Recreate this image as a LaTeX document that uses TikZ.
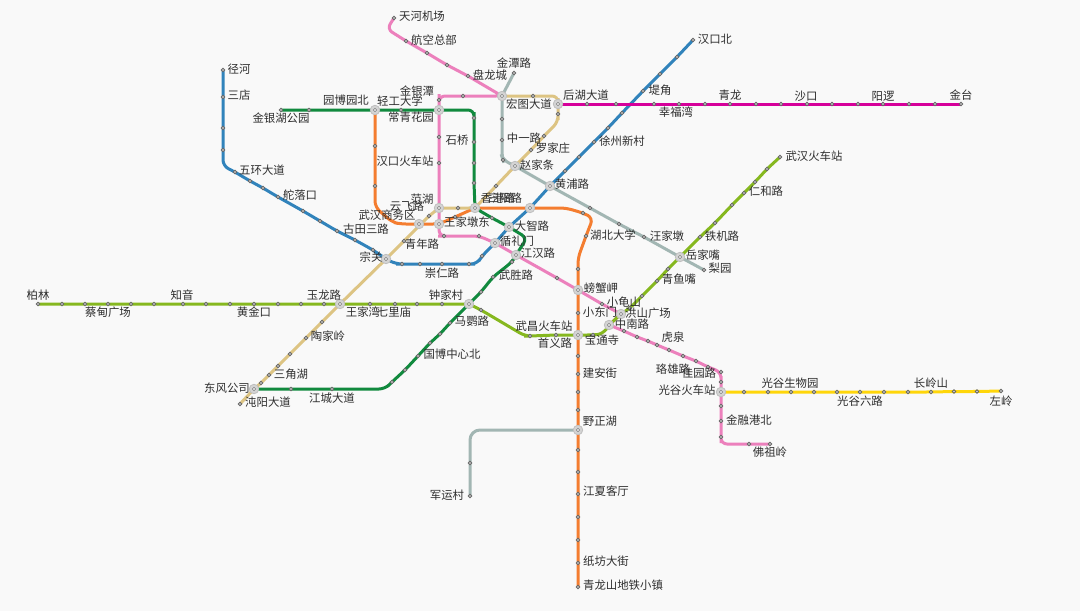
\documentclass[tikz,border=0pt]{standalone}
\usepackage{fontspec}
\setmainfont{Noto Sans CJK SC}
\usepackage{xcolor}
\usepackage{tikz}
\usetikzlibrary{backgrounds}
\definecolor{pagebg}{HTML}{F9F9F9}
\definecolor{textgrey}{HTML}{2E2E2E}
\definecolor{lineblue}{HTML}{3183BB}
\definecolor{linegreen}{HTML}{118A3E}
\definecolor{lineorange}{HTML}{F47D30}
\definecolor{linepink}{HTML}{EC80BC}
\definecolor{linetan}{HTML}{DDC483}
\definecolor{linelime}{HTML}{86B81F}
\definecolor{linegrey}{HTML}{A2B6B3}
\definecolor{linemagenta}{HTML}{D6009A}
\definecolor{lineyellow}{HTML}{FFD60A}

\begin{document}
\begin{tikzpicture}[
        x=1pt, y=-1pt,
        font=\fontsize{11.4pt}{12pt}\selectfont,
        % Styles for the stations
        stop/.style={
            circle, draw=black!60, fill=black!10, line width=0.8pt,
            inner sep=0pt, minimum size=3.4pt
        },
        hub/.style={
            circle, draw=black!25, fill=black!17, line width=0.8pt,
            inner sep=0pt, minimum size=9.5pt,
            path picture={\draw[black!50, line width=0.5pt, fill=black!8] (path picture bounding box.center) circle (1.8pt);}
        },
        stationname/.style={text=textgrey, inner sep=0pt},
        % Styles for the metro lines
        metro/.style={line width=3pt, rounded corners=6pt},
        lineone/.style={metro, draw=lineblue},
        linesix/.style={metro, draw=linegreen},
        lineseven/.style={metro, draw=lineorange},
        linetwo/.style={metro, draw=linepink},
        linethree/.style={metro, draw=linetan},
        linefour/.style={metro, draw=linelime},
        lineeight/.style={metro, draw=linegrey},
        linetwentyone/.style={metro, draw=linemagenta},
        lineeleven/.style={metro, draw=lineyellow}
    ]

    % 1. INTERCHANGE STATIONS
    \node[hub] (yuanbo)    at (375,110) {};
    \node[hub] (changqing) at (439,110) {};
    \node[hub] (hongtu)    at (502,96) {};
    \node[hub] (houhu)     at (558,104) {};
    \node[hub] (zhaojia)   at (515,166) {};
    \node[hub] (huangpu)   at (550,186) {};
    \node[hub] (fanhu)     at (439,208) {};
    \node[hub] (xianggang) at (475,208) {};
    \node[hub] (sanyang)   at (530,208) {};
    \node[hub] (shangwu)   at (419,224) {};
    \node[hub] (wangjia)   at (439,224) {};
    \node[hub] (dazhi)     at (509,227) {};
    \node[hub] (xunli)     at (495,243) {};
    \node[hub] (jianghan)  at (516,255) {};
    \node[hub] (zongguan)  at (386,259) {};
    \node[hub] (yuejia)    at (680,257) {};
    \node[hub] (pangxie)   at (578,290) {};
    \node[hub] (yulong)    at (340,304) {};
    \node[hub] (zhongjia)  at (469,304) {};
    \node[hub] (hongshan)  at (621,314) {};
    \node[hub] (zhongnan)  at (609,325) {};
    \node[hub] (wuchang)   at (578,335) {};
    \node[hub] (dongfeng)  at (254,389) {};
    \node[hub] (guanggu)   at (721,392) {};
    \node[hub] (yezheng)   at (578,430) {};

    % 2. STOPS OF THE BLUE LINE
    \node[stop] (jinghe)    at (223,70) {};
    \node[stop] (sandian)   at (223,97) {};
    \node[stop] (blue3)     at (223,128) {};
    \node[stop] (blue4)     at (223,150) {};
    \node[stop] (wuhuan)    at (235,172) {};
    \node[stop] (blue6)     at (250,181) {};
    \node[stop] (blue7)     at (263,188) {};
    \node[stop] (duoluo)    at (278,197) {};
    \node[stop] (blue9)     at (303,211) {};
    \node[stop] (blue10)    at (320,221) {};
    \node[stop] (blue11)    at (337,231) {};
    \node[stop] (gutian)    at (355,240) {};
    \node[stop] (blue13)    at (373,250) {};
    \node[stop] (blue14)    at (402,264) {};
    \node[stop] (blue15)    at (420,264) {};
    \node[stop] (chongren)  at (442,264) {};
    \node[stop] (blue17)    at (469,264) {};
    \node[stop] (blue18)    at (482,256) {};
    \node[stop] (blue19)    at (565,171) {};
    \node[stop] (blue20)    at (579,157) {};
    \node[stop] (xuzhou)    at (594,142) {};
    \node[stop] (blue22)    at (608,128) {};
    \node[stop] (blue23)    at (622,113) {};
    \node[stop] (dijiao)    at (643,91) {};
    \node[stop] (blue25)    at (660,74) {};
    \node[stop] (blue26)    at (677,57) {};
    \node[stop] (hankoubei) at (693,40) {};
    \coordinate (bluebenda) at (223,166);
    \coordinate (bluebendb) at (396,264);
    \coordinate (bluebendc) at (477,264);

    % 3. STOPS OF THE GREEN LINE
    \node[stop] (jinyinhu)  at (281,110) {};
    \node[stop] (green2)    at (309,110) {};
    \node[stop] (qinggong)  at (401,110) {};
    \node[stop] (green4)    at (474,118) {};
    \node[stop] (shiqiao)   at (474,142) {};
    \node[stop] (green6)    at (474,163) {};
    \node[stop] (green7)    at (474,183) {};
    \node[stop] (green8)    at (492,218) {};
    \node[stop] (green9)    at (512,262) {};
    \node[stop] (wusheng)   at (493,277) {};
    \node[stop] (green11)   at (481,292) {};
    \node[stop] (mayingl)   at (450,323) {};
    \node[stop] (green13)   at (440,334) {};
    \node[stop] (green14)   at (430,343) {};
    \node[stop] (guobo)     at (418,356) {};
    \node[stop] (green16)   at (405,370) {};
    \node[stop] (green17)   at (392,382) {};
    \node[stop] (jiangcheng) at (332,389) {};
    \node[stop] (green19)   at (291,389) {};
    \coordinate (greenbenda) at (474,110);
    \coordinate (greenbendb) at (527,238);
    \coordinate (greenbendc) at (385,389);

    % 4. STOPS OF THE ORANGE LINE
    \node[stop] (orange1)   at (375,146) {};
    \node[stop] (orange2)   at (375,186) {};
    \node[stop] (orange3)   at (455,217) {};
    \node[stop] (orange4)   at (583,213) {};
    \node[stop] (hubei)     at (586,236) {};
    \node[stop] (orange6)   at (578,269) {};
    \node[stop] (orange7)   at (578,313) {};
    \node[stop] (orange8)   at (578,356) {};
    \node[stop] (jianan)    at (578,374) {};
    \node[stop] (orange10)  at (578,392) {};
    \node[stop] (orange11)  at (578,410) {};
    \node[stop] (orange12)  at (578,450) {};
    \node[stop] (orange13)  at (578,472) {};
    \node[stop] (jiangxia)  at (578,494) {};
    \node[stop] (orange15)  at (578,517) {};
    \node[stop] (orange16)  at (578,540) {};
    \node[stop] (zhifang)   at (578,563) {};
    \node[stop] (qinglongshan) at (578,587) {};
    \coordinate (orangebenda) at (375,207);
    \coordinate (orangebendb) at (392,222);
    \coordinate (orangebendc) at (400,224);
    \coordinate (orangebendd) at (566,208);
    \coordinate (orangebende) at (593,218);
    \coordinate (orangebendf) at (578,258);

    % 5. STOPS OF THE PINK LINE
    \node[stop] (tianhe)    at (394,18) {};
    \node[stop] (hangkong)  at (406,41) {};
    \node[stop] (pink3)     at (427,53) {};
    \node[stop] (pink4)     at (447,65) {};
    \node[stop] (panlong)   at (468,76) {};
    \node[stop] (pink6)     at (463,96) {};
    \node[stop] (jinyintan) at (439,100) {};
    \node[stop] (pink8)     at (439,137) {};
    \node[stop] (hankou)    at (439,163) {};
    \node[stop] (pink10)    at (444,236) {};
    \node[stop] (pink11)    at (479,236) {};
    \node[stop] (pink12)    at (557,278) {};
    \node[stop] (xiaoguishan) at (602,304) {};
    \node[stop] (baotong)   at (624,331) {};
    \node[stop] (pink15)    at (637,337) {};
    \node[stop] (pink16)    at (648,341) {};
    \node[stop] (hongquan)  at (657,345) {};
    \node[stop] (pink18)    at (669,350) {};
    \node[stop] (luoxiong)  at (683,356) {};
    \node[stop] (pink20)    at (696,361) {};
    \node[stop] (pink21)    at (708,367) {};
    \node[stop] (jiayuan)   at (721,372) {};
    \node[stop] (pink23)    at (721,382) {};
    \node[stop] (pink24)    at (721,406) {};
    \node[stop] (jinronggang) at (721,421) {};
    \node[stop] (pink26)    at (721,437) {};
    \node[stop] (pink27)    at (749,444) {};
    \node[stop] (fozu)      at (770,444) {};
    \coordinate (pinkbenda) at (387,29);
    \coordinate (pinkbendb) at (439,96);
    \coordinate (pinkbendc) at (439,236);
    \coordinate (pinkbendd) at (721,444);

    % 6. STOPS OF THE TAN LINE
    \node[stop] (chenyang)  at (240,404) {};
    \node[stop] (tan2)      at (261,383) {};
    \node[stop] (sanjiao)   at (269,375) {};
    \node[stop] (tan4)      at (278,366) {};
    \node[stop] (tan5)      at (290,354) {};
    \node[stop] (taojia)    at (306,338) {};
    \node[stop] (tan7)      at (322,322) {};
    \node[stop] (qingnian)  at (404,241) {};
    \node[stop] (yunfei)    at (429,216) {};
    \node[stop] (tan10)     at (458,208) {};
    \node[stop] (tan11)     at (496,186) {};
    \node[stop] (luojia)    at (531,150) {};
    \node[stop] (zhongyi)   at (544,136) {};
    \node[stop] (tan14)     at (558,114) {};
    \node[stop] (tan15)     at (533,96) {};
    \coordinate (tanbenda) at (558,122);
    \coordinate (tanbendb) at (558,96);

    % 7. STOPS OF THE LIME LINE
    \node[stop] (wuhan)     at (780,157) {};
    \node[stop] (lime2)     at (767,169) {};
    \node[stop] (lime3)     at (755,182) {};
    \node[stop] (renhe)     at (744,193) {};
    \node[stop] (lime5)     at (732,205) {};
    \node[stop] (lime6)     at (715,223) {};
    \node[stop] (tieji)     at (700,237) {};
    \node[stop] (qingyu)    at (668,269) {};
    \node[stop] (lime9)     at (657,281) {};
    \node[stop] (lime10)    at (642,296) {};
    \node[stop] (lime11)    at (630,308) {};
    \node[stop] (lime12)    at (593,335) {};
    \node[stop] (shouyi)    at (556,335) {};
    \node[stop] (lime14)    at (530,336) {};
    \node[stop] (lime15)    at (481,310) {};
    \node[stop] (lime16)    at (442,304) {};
    \node[stop] (lime17)    at (417,304) {};
    \node[stop] (qili)      at (395,304) {};
    \node[stop] (wangjiawan) at (370,304) {};
    \node[stop] (lime20)    at (324,304) {};
    \node[stop] (lime21)    at (301,304) {};
    \node[stop] (lime22)    at (278,304) {};
    \node[stop] (huangjin)  at (254,304) {};
    \node[stop] (lime24)    at (230,304) {};
    \node[stop] (lime25)    at (206,304) {};
    \node[stop] (zhiyin)    at (183,304) {};
    \node[stop] (lime27)    at (154,304) {};
    \node[stop] (lime28)    at (131,304) {};
    \node[stop] (caidian)   at (108,304) {};
    \node[stop] (lime30)    at (85,304) {};
    \node[stop] (lime31)    at (62,304) {};
    \node[stop] (bolin)     at (38,304) {};
    \coordinate (limebenda) at (603,334);
    \coordinate (limebendb) at (525,336);

    % 8. STOPS OF THE GREY LINES
    \node[stop] (jintan)    at (514,73) {};
    \node[stop] (grey2)     at (502,119) {};
    \node[stop] (grey3)     at (502,140) {};
    \node[stop] (grey4)     at (503,160) {};
    \node[stop] (grey5)     at (590,208) {};
    \node[stop] (grey6)     at (619,224) {};
    \node[stop] (wangjiadun) at (644,237) {};
    \node[stop] (liyuan)    at (704,270) {};
    \node[stop] (junyun)    at (470,496) {};
    \node[stop] (grey10)    at (470,463) {};
    \coordinate (greybenda) at (502,157);
    \coordinate (greybendb) at (470,430);

    % 9. STOPS OF THE MAGENTA LINE
    \node[stop] (magenta1)  at (587,104) {};
    \node[stop] (magenta2)  at (616,104) {};
    \node[stop] (magenta3)  at (654,104) {};
    \node[stop] (xingfu)    at (679,104) {};
    \node[stop] (magenta5)  at (705,104) {};
    \node[stop] (qinglong)  at (730,104) {};
    \node[stop] (magenta7)  at (756,104) {};
    \node[stop] (magenta8)  at (781,104) {};
    \node[stop] (shakou)    at (807,104) {};
    \node[stop] (magenta10) at (832,104) {};
    \node[stop] (magenta11) at (858,104) {};
    \node[stop] (yangluo)   at (883,104) {};
    \node[stop] (magenta13) at (909,104) {};
    \node[stop] (magenta14) at (935,104) {};
    \node[stop] (jintai)    at (961,104) {};

    % 10. STOPS OF THE YELLOW LINE
    \node[stop] (yellow1)   at (744,392) {};
    \node[stop] (yellow2)   at (768,392) {};
    \node[stop] (shengwu)   at (791,392) {};
    \node[stop] (yellow4)   at (814,392) {};
    \node[stop] (yellow5)   at (837,392) {};
    \node[stop] (liulu)     at (860,392) {};
    \node[stop] (yellow7)   at (884,392) {};
    \node[stop] (yellow8)   at (908,392) {};
    \node[stop] (changling) at (931,392) {};
    \node[stop] (yellow10)  at (954,391.5) {};
    \node[stop] (yellow11)  at (977,391.5) {};
    \node[stop] (zuoling)   at (1001,391) {};

    % 11. PAGE AND LINES, BEHIND THE STATIONS
    \begin{scope}[on background layer]
    \fill[pagebg] (0,0) rectangle (1080,611);
    \draw[lineone] (jinghe.center) -- (sandian.center) -- (blue3.center) -- (blue4.center) -- (bluebenda) -- (wuhuan.center) -- (blue6.center) -- (blue7.center) -- (duoluo.center) -- (blue9.center) -- (blue10.center) -- (blue11.center) -- (gutian.center) -- (blue13.center) -- (zongguan.center) -- (bluebendb) -- (blue14.center) -- (blue15.center) -- (chongren.center) -- (blue17.center) -- (bluebendc) -- (blue18.center) -- (xunli.center) -- (dazhi.center) -- (sanyang.center) -- (huangpu.center) -- (blue19.center) -- (blue20.center) -- (xuzhou.center) -- (blue22.center) -- (blue23.center) -- (dijiao.center) -- (blue25.center) -- (blue26.center) -- (hankoubei.center);
    \draw[lineseven] (yuanbo.center) -- (orange1.center) -- (orange2.center) -- (orangebenda) -- (orangebendb) -- (orangebendc) -- (shangwu.center) -- (wangjia.center) -- (orange3.center) -- (xianggang.center) -- (sanyang.center) -- (orangebendd) -- (orange4.center) -- (orangebende) -- (hubei.center) -- (orangebendf) -- (orange6.center) -- (pangxie.center) -- (orange7.center) -- (wuchang.center) -- (orange8.center) -- (jianan.center) -- (orange10.center) -- (orange11.center) -- (yezheng.center) -- (orange12.center) -- (orange13.center) -- (jiangxia.center) -- (orange15.center) -- (orange16.center) -- (zhifang.center) -- (qinglongshan.center);
    \draw[linetwo] (tianhe.center) -- (pinkbenda) -- (hangkong.center) -- (pink3.center) -- (pink4.center) -- (panlong.center) -- (hongtu.center) -- (pink6.center) -- (pinkbendb) -- (jinyintan.center) -- (changqing.center) -- (pink8.center) -- (hankou.center) -- (fanhu.center) -- (wangjia.center) -- (pinkbendc) -- (pink10.center) -- (pink11.center) -- (xunli.center) -- (jianghan.center) -- (pink12.center) -- (pangxie.center) -- (xiaoguishan.center) -- (hongshan.center) -- (zhongnan.center) -- (baotong.center) -- (pink15.center) -- (pink16.center) -- (hongquan.center) -- (pink18.center) -- (luoxiong.center) -- (pink20.center) -- (pink21.center) -- (jiayuan.center) -- (pink23.center) -- (guanggu.center) -- (pink24.center) -- (jinronggang.center) -- (pink26.center) -- (pinkbendd) -- (pink27.center) -- (fozu.center);
    \draw[linethree] (chenyang.center) -- (dongfeng.center) -- (tan2.center) -- (sanjiao.center) -- (tan4.center) -- (tan5.center) -- (taojia.center) -- (tan7.center) -- (yulong.center) -- (zongguan.center) -- (qingnian.center) -- (yunfei.center) -- (fanhu.center) -- (tan10.center) -- (xianggang.center) -- (tan11.center) -- (zhaojia.center) -- (luojia.center) -- (zhongyi.center) -- (tanbenda) -- (tan14.center) -- (houhu.center) -- (tanbendb) -- (tan15.center) -- (hongtu.center);
    \draw[linesix] (jinyinhu.center) -- (green2.center) -- (yuanbo.center) -- (qinggong.center) -- (changqing.center) -- (greenbenda) -- (green4.center) -- (shiqiao.center) -- (green6.center) -- (green7.center) -- (xianggang.center) -- (green8.center) -- (dazhi.center) -- (greenbendb) -- (jianghan.center) -- (green9.center) -- (wusheng.center) -- (green11.center) -- (zhongjia.center) -- (mayingl.center) -- (green13.center) -- (green14.center) -- (guobo.center) -- (green16.center) -- (green17.center) -- (greenbendc) -- (jiangcheng.center) -- (green19.center) -- (dongfeng.center);
    \draw[linefour] (wuhan.center) -- (lime2.center) -- (lime3.center) -- (renhe.center) -- (lime5.center) -- (lime6.center) -- (tieji.center) -- (yuejia.center) -- (qingyu.center) -- (lime9.center) -- (lime10.center) -- (lime11.center) -- (hongshan.center) -- (zhongnan.center) -- (limebenda) -- (lime12.center) -- (wuchang.center) -- (shouyi.center) -- (lime14.center) -- (limebendb) -- (lime15.center) -- (zhongjia.center) -- (lime16.center) -- (lime17.center) -- (qili.center) -- (wangjiawan.center) -- (yulong.center) -- (lime20.center) -- (lime21.center) -- (lime22.center) -- (huangjin.center) -- (lime24.center) -- (lime25.center) -- (zhiyin.center) -- (lime27.center) -- (lime28.center) -- (caidian.center) -- (lime30.center) -- (lime31.center) -- (bolin.center);
    \draw[lineeight] (jintan.center) -- (hongtu.center) -- (grey2.center) -- (grey3.center) -- (greybenda) -- (grey4.center) -- (zhaojia.center) -- (huangpu.center) -- (grey5.center) -- (grey6.center) -- (wangjiadun.center) -- (yuejia.center) -- (liyuan.center);
    \draw[lineeight, rounded corners=10pt] (junyun.center) -- (grey10.center) -- (greybendb) -- (yezheng.center);
    \draw[linetwentyone] (houhu.center) -- (magenta1.center) -- (magenta2.center) -- (magenta3.center) -- (xingfu.center) -- (magenta5.center) -- (qinglong.center) -- (magenta7.center) -- (magenta8.center) -- (shakou.center) -- (magenta10.center) -- (magenta11.center) -- (yangluo.center) -- (magenta13.center) -- (magenta14.center) -- (jintai.center);
    \draw[lineeleven] (guanggu.center) -- (yellow1.center) -- (yellow2.center) -- (shengwu.center) -- (yellow4.center) -- (yellow5.center) -- (liulu.center) -- (yellow7.center) -- (yellow8.center) -- (changling.center) -- (yellow10.center) -- (yellow11.center) -- (zuoling.center);
    \end{scope}

    % 12. STATION NAMES, WEST
    \node[stationname] (t1)  at (239,69) {径河};
    \node[stationname] (t2)  at (239,95) {三店};
    \node[stationname] (t3)  at (262,170) {五环大道};
    \node[stationname] (t4)  at (300,195) {舵落口};
    \node[stationname] (t5)  at (281,118) {金银湖公园};
    \node[stationname] (t6)  at (346,100) {园博园北};
    \node[stationname] (t7)  at (366,229) {古田三路};
    \node[stationname] (t8)  at (371,257) {宗关};
    \node[stationname] (t9)  at (38,295) {柏林};
    \node[stationname] (t10) at (108,312) {蔡甸广场};
    \node[stationname] (t11) at (182,295) {知音};
    \node[stationname] (t12) at (254,312) {黄金口};
    \node[stationname] (t13) at (324,295) {玉龙路};
    \node[stationname] (t14) at (363,312) {王家湾};
    \node[stationname] (t15) at (394,312) {七里庙};
    \node[stationname] (t16) at (328,336) {陶家岭};
    \node[stationname] (t17) at (291,374) {三角湖};
    \node[stationname] (t18) at (227,388) {东风公司};
    \node[stationname] (t19) at (268,402) {沌阳大道};
    \node[stationname] (t20) at (332,398) {江城大道};

    % 13. STATION NAMES, CENTRE
    \node[stationname] (t21) at (422,16) {天河机场};
    \node[stationname] (t22) at (434,40) {航空总部};
    \node[stationname] (t23) at (514,63) {金潭路};
    \node[stationname] (t24) at (490,75) {盘龙城};
    \node[stationname] (t25) at (417,91) {金银潭};
    \node[stationname] (t26) at (400,101) {轻工大学};
    \node[stationname] (t27) at (411,117) {常青花园};
    \node[stationname] (t28) at (529,104) {宏图大道};
    \node[stationname] (t29) at (586,95) {后湖大道};
    \node[stationname] (t30) at (457,140) {石桥};
    \node[stationname] (t31) at (405,161) {汉口火车站};
    \node[stationname] (t32) at (524,138) {中一路};
    \node[stationname] (t33) at (553,148) {罗家庄};
    \node[stationname] (t34) at (537,165) {赵家条};
    \node[stationname] (t35) at (422,199) {范湖};
    \node[stationname] (t36) at (407,206) {云飞路};
    \node[stationname] (t37) at (387,215) {武汉商务区};
    \node[stationname] (t38) at (422,244) {青年路};
    \node[stationname] (t39) at (467,222) {王家墩东};
    \node[stationname] (t40) at (498,198) {香港路};
    \node[stationname] (t41) at (505,198) {三阳路};
    \node[stationname] (t42) at (532,226) {大智路};
    \node[stationname] (t43) at (517,241) {循礼门};
    \node[stationname] (t44) at (538,253) {江汉路};
    \node[stationname] (t45) at (516,275) {武胜路};
    \node[stationname] (t46) at (442,273) {崇仁路};
    \node[stationname] (t47) at (446,295) {钟家村};
    \node[stationname] (t48) at (472,321) {马鹦路};
    \node[stationname] (t49) at (452,354) {国博中心北};
    \node[stationname] (t50) at (572,184) {黄浦路};
    \node[stationname] (t51) at (544,326) {武昌火车站};
    \node[stationname] (t52) at (555,343) {首义路};

    % 14. STATION NAMES, SOUTH
    \node[stationname] (t53) at (601,288) {螃蟹岬};
    \node[stationname] (t54) at (600,373) {建安街};
    \node[stationname] (t55) at (600,421) {野正湖};
    \node[stationname] (t56) at (606,491) {江夏客厅};
    \node[stationname] (t57) at (606,561) {纸坊大街};
    \node[stationname] (t58) at (623,585) {青龙山地铁小镇};
    \node[stationname] (t59) at (447,495) {军运村};

    % 15. STATION NAMES, EAST
    \node[stationname] (t60) at (622,141) {徐州新村};
    \node[stationname] (t61) at (613,235) {湖北大学};
    \node[stationname] (t62) at (667,236) {汪家墩};
    \node[stationname] (t63) at (722,236) {铁机路};
    \node[stationname] (t64) at (703,255) {岳家嘴};
    \node[stationname] (t65) at (720,268) {梨园};
    \node[stationname] (t66) at (679,279) {青鱼嘴};
    \node[stationname] (t67) at (766,191) {仁和路};
    \node[stationname] (t68) at (814,156) {武汉火车站};
    \node[stationname] (t69) at (624,302) {小龟山};
    \node[stationname] (t70) at (600,312) {小东门};
    \node[stationname] (t71) at (648,313) {洪山广场};
    \node[stationname] (t72) at (632,324) {中南路};
    \node[stationname] (t73) at (602,340) {宝通寺};
    \node[stationname] (t74) at (673,337) {虎泉};
    \node[stationname] (t75) at (673,369) {珞雄路};
    \node[stationname] (t76) at (699,373) {佳园路};
    \node[stationname] (t77) at (687,390) {光谷火车站};
    \node[stationname] (t78) at (749,420) {金融港北};
    \node[stationname] (t79) at (770,452) {佛祖岭};
    \node[stationname] (t80) at (790,383) {光谷生物园};
    \node[stationname] (t81) at (860,401) {光谷六路};
    \node[stationname] (t82) at (931,383) {长岭山};
    \node[stationname] (t83) at (1001,401) {左岭};
    \node[stationname] (t84) at (715,39) {汉口北};
    \node[stationname] (t85) at (660,90) {堤角};
    \node[stationname] (t86) at (676,112) {幸福湾};
    \node[stationname] (t87) at (730,95) {青龙};
    \node[stationname] (t88) at (806,96) {沙口};
    \node[stationname] (t89) at (883,96) {阳逻};
    \node[stationname] (t90) at (961,95) {金台};

\end{tikzpicture}
\end{document}
